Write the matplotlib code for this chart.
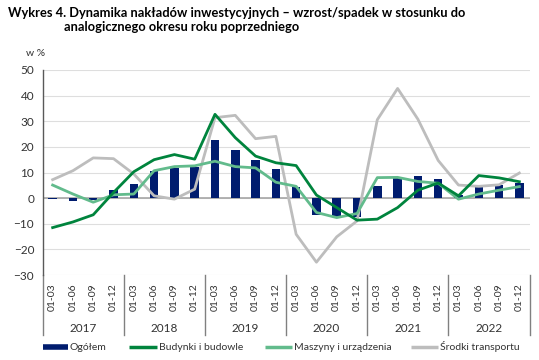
import numpy as np
import matplotlib
matplotlib.use("Agg")
import matplotlib.pyplot as plt
from matplotlib.lines import Line2D

plt.rcParams['font.family'] = ['Lato', 'DejaVu Sans']

# data
years = ['2017', '2018', '2019', '2020', '2021', '2022']
periods = ['01-03', '01-06', '01-09', '01-12']
ogolem = [-0.4, -1.3, -0.7, 3.3, 5.5, 10.5, 11.8, 12.0, 22.8, 18.8, 15.0, 11.3,
          4.5, -6.4, -7.2, -7.3, 4.6, 7.7, 8.5, 7.3, 1.2, 4.6, 5.0, 5.8]
budynki = [-11.5, -9.3, -6.5, 2.2, 10.3, 15.0, 17.0, 15.2, 32.7, 23.6, 16.4, 13.8,
           12.7, 1.2, -3.7, -8.6, -8.2, -3.7, 3.1, 5.9, 0.9, 8.8, 7.9, 6.4]
maszyny = [5.1, 1.6, -1.6, 1.3, 1.6, 10.7, 12.3, 12.6, 14.4, 12.3, 11.8, 6.2,
           4.6, -5.6, -7.6, -6.0, 8.0, 8.1, 6.5, 5.8, -0.4, 1.6, 3.1, 4.5]
transport = [7.2, 10.7, 15.7, 15.4, 9.4, 0.9, -0.4, 3.5, 31.4, 32.3, 23.2, 24.1,
             -14.1, -25.0, -15.1, -8.9, 30.6, 42.8, 30.8, 14.7, 5.1, 4.6, 5.2, 9.8]
labels = ['Ogółem', 'Budynki i budowle', 'Maszyny i urządzenia', 'Środki transportu']

navy = '#001c6e'
green = '#00843d'
lgreen = '#62bb8c'
grey = '#bdbdbd'

W, H = 539, 360
fig = plt.figure(figsize=(W / 100, H / 100), dpi=100)
ax = fig.add_axes([42.5 / W, 1 - 275 / H, 487 / W, 205 / H])

x = np.arange(len(ogolem))
ax.bar(x, ogolem, width=0.42, color=navy, zorder=3)
ax.plot(x, transport, color=grey, lw=2, zorder=4)
ax.plot(x, maszyny, color=lgreen, lw=2, zorder=5)
ax.plot(x, budynki, color=green, lw=2, zorder=6)

ax.set_xlim(-0.5, len(x) - 0.5)
ax.set_ylim(-30, 50)
ax.set_yticks(range(-30, 51, 10))
ax.yaxis.grid(True, color='#dedede', lw=0.8, zorder=0)
ax.axhline(0, color='#a6a6a6', lw=1.2, zorder=2)
for s in ['top', 'right', 'bottom']:
    ax.spines[s].set_visible(False)
ax.spines['left'].set_color('#595959')
ax.spines['left'].set_linewidth(1)
ax.tick_params(axis='y', length=0, labelsize=8.5, pad=6, labelcolor='#333333')
ax.set_xticks(x)
ax.set_xticklabels(periods * len(years), rotation=90, fontsize=7.5, color='#333333')
ax.tick_params(axis='x', length=0, pad=6)

# year labels and group separators below the axis
tr = ax.get_xaxis_transform()
for i, yr in enumerate(years):
    ax.text(i * 4 + 1.5, -0.26, yr, transform=tr, ha='center', va='center',
            fontsize=8.5, color='#333333')
for k in range(len(years) + 1):
    ax.plot([k * 4 - 0.5] * 2, [0, -0.293], transform=tr, color='#808080',
            lw=1, clip_on=False)

fig.text(26 / W, 1 - 53 / H, 'w %', fontsize=7.5, ha='left', va='center', color='#333333')
fig.text(8 / W, 1 - 13 / H,
         'Wykres 4. Dynamika nakładów inwestycyjnych \u2013 wzrost/spadek w stosunku do',
         fontsize=9.3, fontweight='bold', ha='left', va='center')
fig.text(64 / W, 1 - 27 / H, 'analogicznego okresu roku poprzedniego',
         fontsize=9.3, fontweight='bold', ha='left', va='center')

# legend drawn by hand to match the reference spacing
leg_x = [(43, 68), (129, 157), (265, 292), (411, 438)]
leg_c = [navy, green, lgreen, grey]
leg_w = [4, 2.5, 2.5, 2.5]
ly = 1 - 347 / H
for (x0, x1), c, lw, lab in zip(leg_x, leg_c, leg_w, labels):
    fig.add_artist(Line2D([x0 / W, x1 / W], [ly, ly], color=c, lw=lw,
                          solid_capstyle='butt', transform=fig.transFigure))
    fig.text((x1 + 2) / W, ly, lab, fontsize=7.5, ha='left', va='center', color='#333333')

fig.savefig('out.png', dpi=100)
